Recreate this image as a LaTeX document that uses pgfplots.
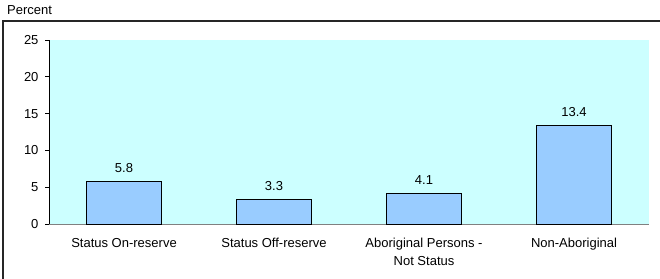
\documentclass[border=0pt]{standalone}
\usepackage{pgfplots}
\pgfplotsset{compat=1.18}
\usepackage{fontspec}
\setmainfont{Liberation Sans}
\definecolor{plotbg}{HTML}{CCFFFF}
\definecolor{barfill}{HTML}{99CCFF}
\begin{document}
\fontsize{13}{15}\selectfont
\begin{tikzpicture}[x=1pt,y=1pt]
\useasboundingbox (0,0) rectangle (660,278);
\begin{scope}
\clip (0,0) rectangle (660,278);
\draw[line width=1.3pt,black!85] (3,-10) -- (3,257) -- (670,257);
\end{scope}
\node[anchor=west,inner sep=0pt] at (7,268) {Percent};
\begin{axis}[
  at={(49pt,54pt)}, anchor=south west,
  scale only axis, width=600pt, height=184pt,
  xmin=-0.5, xmax=3.5, ymin=0, ymax=25,
  axis background/.style={fill=plotbg},
  axis lines*=left,
  x axis line style={draw=gray, line width=1pt},
  y axis line style={draw=black, line width=0.8pt},
  ytick={0,5,10,15,20,25},
  ytick style={draw=black, line width=0.6pt},
  tick align=outside, major tick length=4pt,
  xtick={0,1,2,3},
  xticklabels={Status On-reserve, Status Off-reserve, {Aboriginal Persons -\\Not Status}, Non-Aboriginal},
  xticklabel style={align=center, yshift=-6pt, text depth=0pt, font=\fontsize{13}{18}\selectfont},
  x tick style={draw=none},
  extra x ticks={-0.5,0.5,1.5,2.5,3.5},
  extra x tick labels={},
  extra x tick style={tick style={draw=black, line width=0.8pt}},
  /pgf/number format/assume math mode=true,
  yticklabel style={xshift=-2pt},
  ybar, bar width=75pt,
  nodes near coords,
  nodes near coords style={font=\fontsize{13}{15}\selectfont, yshift=4pt},
  point meta=explicit symbolic,
  clip=false,
]
\addplot[fill=barfill, draw=black, line width=1pt] coordinates {
  (0,5.8) [5.8]
  (1,3.3) [3.3]
  (2,4.1) [4.1]
  (3,13.4) [13.4]
};
\end{axis}
\end{tikzpicture}
\end{document}
